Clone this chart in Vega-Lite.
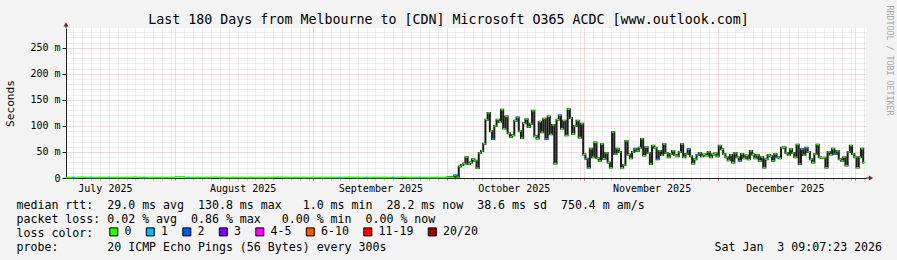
{
  "$schema": "https://vega.github.io/schema/vega-lite/v6.json",
  "width": 800,
  "height": 150,
  "autosize": {"type": "none"},
  "padding": {"left": 66, "top": 28, "right": 31, "bottom": 82},
  "background": "#f3f3f3",
  "config": {"view": {"fill": "#ffffff", "stroke": null}, "font": "DejaVu Sans Mono"},
  "datasets": {
    "flat": [
      {"t": "2025-07-07T09:07", "m": 1.2, "c": "0"},
      {"t": "2025-07-09T00:00", "m": 1.1, "c": "1"},
      {"t": "2025-07-11T00:00", "m": 1.3, "c": "0"},
      {"t": "2025-07-13T00:00", "m": 1.2, "c": "1"},
      {"t": "2025-07-15T00:00", "m": 1.1, "c": "0"},
      {"t": "2025-07-17T00:00", "m": 1.2, "c": "1"},
      {"t": "2025-07-19T00:00", "m": 1.0, "c": "0"},
      {"t": "2025-07-21T00:00", "m": 1.2, "c": "0"},
      {"t": "2025-07-23T00:00", "m": 1.3, "c": "0"},
      {"t": "2025-07-25T00:00", "m": 1.1, "c": "1"},
      {"t": "2025-07-27T00:00", "m": 1.2, "c": "0"},
      {"t": "2025-07-29T00:00", "m": 1.1, "c": "0"},
      {"t": "2025-07-31T00:00", "m": 1.2, "c": "0"},
      {"t": "2025-08-02T00:00", "m": 2.5, "c": "0"},
      {"t": "2025-08-04T00:00", "m": 1.2, "c": "1"},
      {"t": "2025-08-06T00:00", "m": 1.1, "c": "0"},
      {"t": "2025-08-08T00:00", "m": 1.2, "c": "0"},
      {"t": "2025-08-10T00:00", "m": 1.3, "c": "0"},
      {"t": "2025-08-12T00:00", "m": 1.1, "c": "0"},
      {"t": "2025-08-14T00:00", "m": 1.2, "c": "0"},
      {"t": "2025-08-16T00:00", "m": 1.0, "c": "0"},
      {"t": "2025-08-18T00:00", "m": 1.2, "c": "0"},
      {"t": "2025-08-20T00:00", "m": 1.1, "c": "0"},
      {"t": "2025-08-22T00:00", "m": 1.2, "c": "0"},
      {"t": "2025-08-24T00:00", "m": 1.3, "c": "0"},
      {"t": "2025-08-26T00:00", "m": 1.1, "c": "0"},
      {"t": "2025-08-28T00:00", "m": 1.2, "c": "0"},
      {"t": "2025-08-30T00:00", "m": 1.1, "c": "0"},
      {"t": "2025-09-01T00:00", "m": 1.2, "c": "0"},
      {"t": "2025-09-03T00:00", "m": 1.1, "c": "0"},
      {"t": "2025-09-05T00:00", "m": 1.2, "c": "0"},
      {"t": "2025-09-07T00:00", "m": 1.1, "c": "1"},
      {"t": "2025-09-09T00:00", "m": 1.3, "c": "0"},
      {"t": "2025-09-11T00:00", "m": 1.2, "c": "0"},
      {"t": "2025-09-13T00:00", "m": 1.1, "c": "1"},
      {"t": "2025-09-15T00:00", "m": 1.2, "c": "0"},
      {"t": "2025-09-17T00:00", "m": 1.1, "c": "0"},
      {"t": "2025-09-19T00:00", "m": 1.2, "c": "1"},
      {"t": "2025-09-21T00:00", "m": 1.3, "c": "0"},
      {"t": "2025-09-23T00:00", "m": 1.1, "c": "0"},
      {"t": "2025-09-25T00:00", "m": 1.2, "c": "1"},
      {"t": "2025-09-27T00:00", "m": 1.1, "c": "0"},
      {"t": "2025-09-29T00:00", "m": 1.2, "c": "0"},
      {"t": "2025-10-01T00:00", "m": 1.2, "c": "0"}
    ],
    "active": [
      {"t": "2025-10-01T00:00", "m": 1.2, "c": "0"},
      {"t": "2025-10-01T12:00", "m": 1.3, "c": "0"},
      {"t": "2025-10-02T00:00", "m": 1.2, "c": "0"},
      {"t": "2025-10-02T12:00", "m": 1.4, "c": "0"},
      {"t": "2025-10-03T00:00", "m": 5, "c": "1"},
      {"t": "2025-10-03T12:00", "m": 1.6, "c": "0"},
      {"t": "2025-10-04T00:00", "m": 22, "c": "0"},
      {"t": "2025-10-04T12:00", "m": 25, "c": "0"},
      {"t": "2025-10-05T00:00", "m": 28, "c": "0"},
      {"t": "2025-10-05T12:00", "m": 40, "c": "0"},
      {"t": "2025-10-06T00:00", "m": 27, "c": "0"},
      {"t": "2025-10-06T12:00", "m": 30, "c": "0"},
      {"t": "2025-10-07T00:00", "m": 36, "c": "0"},
      {"t": "2025-10-07T12:00", "m": 33, "c": "0"},
      {"t": "2025-10-08T00:00", "m": 19, "c": "0"},
      {"t": "2025-10-08T12:00", "m": 48, "c": "0"},
      {"t": "2025-10-09T00:00", "m": 52, "c": "0"},
      {"t": "2025-10-09T12:00", "m": 66, "c": "0"},
      {"t": "2025-10-10T00:00", "m": 112, "c": "0"},
      {"t": "2025-10-10T12:00", "m": 125, "c": "0"},
      {"t": "2025-10-11T00:00", "m": 90, "c": "0"},
      {"t": "2025-10-11T12:00", "m": 75, "c": "1"},
      {"t": "2025-10-12T00:00", "m": 100, "c": "0"},
      {"t": "2025-10-12T12:00", "m": 112, "c": "0"},
      {"t": "2025-10-13T00:00", "m": 108, "c": "0"},
      {"t": "2025-10-13T12:00", "m": 131, "c": "0"},
      {"t": "2025-10-14T00:00", "m": 95, "c": "0"},
      {"t": "2025-10-14T12:00", "m": 118, "c": "0"},
      {"t": "2025-10-15T00:00", "m": 86, "c": "0"},
      {"t": "2025-10-15T12:00", "m": 79, "c": "0"},
      {"t": "2025-10-16T00:00", "m": 82, "c": "0"},
      {"t": "2025-10-16T12:00", "m": 110, "c": "0"},
      {"t": "2025-10-17T00:00", "m": 116, "c": "1"},
      {"t": "2025-10-17T12:00", "m": 90, "c": "0"},
      {"t": "2025-10-18T00:00", "m": 77, "c": "0"},
      {"t": "2025-10-18T12:00", "m": 105, "c": "0"},
      {"t": "2025-10-19T00:00", "m": 113, "c": "0"},
      {"t": "2025-10-19T12:00", "m": 98, "c": "0"},
      {"t": "2025-10-20T00:00", "m": 104, "c": "0"},
      {"t": "2025-10-20T12:00", "m": 129, "c": "0"},
      {"t": "2025-10-21T00:00", "m": 80, "c": "0"},
      {"t": "2025-10-21T12:00", "m": 76, "c": "0"},
      {"t": "2025-10-22T00:00", "m": 108, "c": "0"},
      {"t": "2025-10-22T12:00", "m": 88, "c": "0"},
      {"t": "2025-10-23T00:00", "m": 114, "c": "0"},
      {"t": "2025-10-23T12:00", "m": 75, "c": "1"},
      {"t": "2025-10-24T00:00", "m": 118, "c": "0"},
      {"t": "2025-10-24T12:00", "m": 84, "c": "0"},
      {"t": "2025-10-25T00:00", "m": 102, "c": "0"},
      {"t": "2025-10-25T12:00", "m": 28, "c": "0"},
      {"t": "2025-10-26T00:00", "m": 112, "c": "0"},
      {"t": "2025-10-26T12:00", "m": 120, "c": "1"},
      {"t": "2025-10-27T00:00", "m": 95, "c": "0"},
      {"t": "2025-10-27T12:00", "m": 110, "c": "0"},
      {"t": "2025-10-28T00:00", "m": 82, "c": "0"},
      {"t": "2025-10-28T12:00", "m": 132, "c": "0"},
      {"t": "2025-10-29T00:00", "m": 115, "c": "0"},
      {"t": "2025-10-29T12:00", "m": 85, "c": "0"},
      {"t": "2025-10-30T00:00", "m": 100, "c": "0"},
      {"t": "2025-10-30T12:00", "m": 110, "c": "0"},
      {"t": "2025-10-31T00:00", "m": 78, "c": "0"},
      {"t": "2025-10-31T12:00", "m": 104, "c": "0"},
      {"t": "2025-11-01T00:00", "m": 45, "c": "0"},
      {"t": "2025-11-01T12:00", "m": 37, "c": "1"},
      {"t": "2025-11-02T00:00", "m": 20, "c": "1"},
      {"t": "2025-11-02T12:00", "m": 56, "c": "0"},
      {"t": "2025-11-03T00:00", "m": 40, "c": "0"},
      {"t": "2025-11-03T12:00", "m": 68, "c": "0"},
      {"t": "2025-11-04T00:00", "m": 38, "c": "0"},
      {"t": "2025-11-04T12:00", "m": 33, "c": "0"},
      {"t": "2025-11-05T00:00", "m": 65, "c": "0"},
      {"t": "2025-11-05T12:00", "m": 37, "c": "0"},
      {"t": "2025-11-06T00:00", "m": 48, "c": "0"},
      {"t": "2025-11-06T12:00", "m": 30, "c": "0"},
      {"t": "2025-11-07T00:00", "m": 20, "c": "0"},
      {"t": "2025-11-07T12:00", "m": 88, "c": "0"},
      {"t": "2025-11-08T00:00", "m": 46, "c": "0"},
      {"t": "2025-11-08T12:00", "m": 56, "c": "0"},
      {"t": "2025-11-09T00:00", "m": 50, "c": "0"},
      {"t": "2025-11-09T12:00", "m": 20, "c": "0"},
      {"t": "2025-11-10T00:00", "m": 25, "c": "0"},
      {"t": "2025-11-10T12:00", "m": 71, "c": "0"},
      {"t": "2025-11-11T00:00", "m": 45, "c": "0"},
      {"t": "2025-11-11T12:00", "m": 38, "c": "0"},
      {"t": "2025-11-12T00:00", "m": 50, "c": "0"},
      {"t": "2025-11-12T12:00", "m": 56, "c": "1"},
      {"t": "2025-11-13T00:00", "m": 52, "c": "0"},
      {"t": "2025-11-13T12:00", "m": 58, "c": "0"},
      {"t": "2025-11-14T00:00", "m": 75, "c": "0"},
      {"t": "2025-11-14T12:00", "m": 43, "c": "0"},
      {"t": "2025-11-15T00:00", "m": 59, "c": "0"},
      {"t": "2025-11-15T12:00", "m": 48, "c": "0"},
      {"t": "2025-11-16T00:00", "m": 27, "c": "0"},
      {"t": "2025-11-16T12:00", "m": 62, "c": "0"},
      {"t": "2025-11-17T00:00", "m": 58, "c": "0"},
      {"t": "2025-11-17T12:00", "m": 36, "c": "1"},
      {"t": "2025-11-18T00:00", "m": 52, "c": "0"},
      {"t": "2025-11-18T12:00", "m": 44, "c": "0"},
      {"t": "2025-11-19T00:00", "m": 65, "c": "0"},
      {"t": "2025-11-19T12:00", "m": 48, "c": "0"},
      {"t": "2025-11-20T00:00", "m": 40, "c": "0"},
      {"t": "2025-11-20T12:00", "m": 46, "c": "0"},
      {"t": "2025-11-21T00:00", "m": 52, "c": "0"},
      {"t": "2025-11-21T12:00", "m": 44, "c": "0"},
      {"t": "2025-11-22T00:00", "m": 42, "c": "0"},
      {"t": "2025-11-22T12:00", "m": 50, "c": "0"},
      {"t": "2025-11-23T00:00", "m": 65, "c": "0"},
      {"t": "2025-11-23T12:00", "m": 40, "c": "0"},
      {"t": "2025-11-24T00:00", "m": 46, "c": "0"},
      {"t": "2025-11-24T12:00", "m": 55, "c": "1"},
      {"t": "2025-11-25T00:00", "m": 42, "c": "0"},
      {"t": "2025-11-25T12:00", "m": 28, "c": "0"},
      {"t": "2025-11-26T00:00", "m": 36, "c": "0"},
      {"t": "2025-11-26T12:00", "m": 44, "c": "1"},
      {"t": "2025-11-27T00:00", "m": 48, "c": "0"},
      {"t": "2025-11-27T12:00", "m": 42, "c": "0"},
      {"t": "2025-11-28T00:00", "m": 45, "c": "0"},
      {"t": "2025-11-28T12:00", "m": 43, "c": "0"},
      {"t": "2025-11-29T00:00", "m": 50, "c": "0"},
      {"t": "2025-11-29T12:00", "m": 40, "c": "0"},
      {"t": "2025-11-30T00:00", "m": 45, "c": "0"},
      {"t": "2025-11-30T12:00", "m": 47, "c": "0"},
      {"t": "2025-12-01T00:00", "m": 42, "c": "0"},
      {"t": "2025-12-01T12:00", "m": 62, "c": "0"},
      {"t": "2025-12-02T00:00", "m": 55, "c": "0"},
      {"t": "2025-12-02T12:00", "m": 46, "c": "0"},
      {"t": "2025-12-03T00:00", "m": 40, "c": "0"},
      {"t": "2025-12-03T12:00", "m": 34, "c": "0"},
      {"t": "2025-12-04T00:00", "m": 44, "c": "0"},
      {"t": "2025-12-04T12:00", "m": 30, "c": "0"},
      {"t": "2025-12-05T00:00", "m": 48, "c": "0"},
      {"t": "2025-12-05T12:00", "m": 40, "c": "0"},
      {"t": "2025-12-06T00:00", "m": 33, "c": "1"},
      {"t": "2025-12-06T12:00", "m": 46, "c": "0"},
      {"t": "2025-12-07T00:00", "m": 38, "c": "0"},
      {"t": "2025-12-07T12:00", "m": 43, "c": "0"},
      {"t": "2025-12-08T00:00", "m": 36, "c": "0"},
      {"t": "2025-12-08T12:00", "m": 52, "c": "0"},
      {"t": "2025-12-09T00:00", "m": 45, "c": "0"},
      {"t": "2025-12-09T12:00", "m": 38, "c": "0"},
      {"t": "2025-12-10T00:00", "m": 44, "c": "0"},
      {"t": "2025-12-10T12:00", "m": 33, "c": "0"},
      {"t": "2025-12-11T00:00", "m": 40, "c": "0"},
      {"t": "2025-12-11T12:00", "m": 20, "c": "0"},
      {"t": "2025-12-12T00:00", "m": 36, "c": "0"},
      {"t": "2025-12-12T12:00", "m": 44, "c": "0"},
      {"t": "2025-12-13T00:00", "m": 42, "c": "0"},
      {"t": "2025-12-13T12:00", "m": 33, "c": "0"},
      {"t": "2025-12-14T00:00", "m": 46, "c": "0"},
      {"t": "2025-12-14T12:00", "m": 40, "c": "1"},
      {"t": "2025-12-15T00:00", "m": 38, "c": "0"},
      {"t": "2025-12-15T12:00", "m": 58, "c": "0"},
      {"t": "2025-12-16T00:00", "m": 59, "c": "0"},
      {"t": "2025-12-16T12:00", "m": 48, "c": "0"},
      {"t": "2025-12-17T00:00", "m": 44, "c": "0"},
      {"t": "2025-12-17T12:00", "m": 55, "c": "0"},
      {"t": "2025-12-18T00:00", "m": 48, "c": "0"},
      {"t": "2025-12-18T12:00", "m": 40, "c": "0"},
      {"t": "2025-12-19T00:00", "m": 64, "c": "0"},
      {"t": "2025-12-19T12:00", "m": 27, "c": "0"},
      {"t": "2025-12-20T00:00", "m": 55, "c": "1"},
      {"t": "2025-12-20T12:00", "m": 44, "c": "0"},
      {"t": "2025-12-21T00:00", "m": 58, "c": "1"},
      {"t": "2025-12-21T12:00", "m": 50, "c": "0"},
      {"t": "2025-12-22T00:00", "m": 36, "c": "0"},
      {"t": "2025-12-22T12:00", "m": 30, "c": "0"},
      {"t": "2025-12-23T00:00", "m": 46, "c": "0"},
      {"t": "2025-12-23T12:00", "m": 64, "c": "0"},
      {"t": "2025-12-24T00:00", "m": 40, "c": "0"},
      {"t": "2025-12-24T12:00", "m": 39, "c": "0"},
      {"t": "2025-12-25T00:00", "m": 39, "c": "0"},
      {"t": "2025-12-25T12:00", "m": 20, "c": "0"},
      {"t": "2025-12-26T00:00", "m": 50, "c": "0"},
      {"t": "2025-12-26T12:00", "m": 45, "c": "0"},
      {"t": "2025-12-27T00:00", "m": 56, "c": "0"},
      {"t": "2025-12-27T12:00", "m": 46, "c": "1"},
      {"t": "2025-12-28T00:00", "m": 52, "c": "0"},
      {"t": "2025-12-28T12:00", "m": 36, "c": "0"},
      {"t": "2025-12-29T00:00", "m": 33, "c": "0"},
      {"t": "2025-12-29T12:00", "m": 40, "c": "0"},
      {"t": "2025-12-30T00:00", "m": 24, "c": "0"},
      {"t": "2025-12-30T12:00", "m": 50, "c": "0"},
      {"t": "2025-12-31T00:00", "m": 62, "c": "0"},
      {"t": "2025-12-31T12:00", "m": 46, "c": "0"},
      {"t": "2026-01-01T00:00", "m": 40, "c": "0"},
      {"t": "2026-01-01T12:00", "m": 20, "c": "0"},
      {"t": "2026-01-02T00:00", "m": 40, "c": "0"},
      {"t": "2026-01-02T12:00", "m": 56, "c": "0"},
      {"t": "2026-01-03T00:00", "m": 30, "c": "0"}
    ]
  },
  "resolve": {"axis": {"x": "independent", "y": "independent"}},
  "layer": [
    {
      "data": {"name": "flat"},
      "mark": {"type": "line", "interpolate": "step", "color": "#26ff00", "strokeWidth": 1.5},
      "encoding": {
        "x": {
          "field": "t", "type": "temporal",
          "scale": {"domain": [{"year": 2025, "month": 7, "date": 7, "hours": 9, "minutes": 7}, {"year": 2026, "month": 1, "date": 3, "hours": 9, "minutes": 7}], "nice": false},
          "axis": {
            "orient": "bottom",
            "tickCount": {"interval": "day", "step": 2},
            "grid": true,
            "gridColor": {"condition": {"test": "date(datum.value) === 1", "value": "#eeb0b0"}, "value": "#dcdcdc"},
            "gridDash": [1, 1],
            "gridWidth": 1,
            "ticks": true,
            "tickSize": 2,
            "tickColor": {"condition": {"test": "date(datum.value) === 1", "value": "#d06060"}, "value": "#c0c0c0"},
            "domainColor": "#202020",
            "domainWidth": 1,
            "labelExpr": "date(datum.value) === 15 ? timeFormat(datum.value, '%B %Y') : ''",
            "labelOffset": 5,
            "labelOverlap": false,
            "labelFlush": false,
            "labelBound": false,
            "labelFont": "DejaVu Sans Mono",
            "labelFontSize": 10,
            "labelColor": "#000000",
            "labelPadding": 3,
            "title": [
              "median rtt:\u00a0\u00a029.0 ms avg\u00a0\u00a0130.8 ms max\u00a0\u00a0\u00a01.0 ms min\u00a0\u00a028.2 ms now\u00a0\u00a038.6 ms sd\u00a0\u00a0750.4 m am/s",
              "packet loss: 0.02 % avg\u00a0\u00a00.86 % max\u00a0\u00a0\u00a00.00 % min\u00a0\u00a00.00 % now",
              "loss color:",
              "probe:\u00a0\u00a0\u00a0\u00a0\u00a0\u00a0\u00a020 ICMP Echo Pings (56 Bytes) every 300s\u00a0\u00a0\u00a0\u00a0\u00a0\u00a0\u00a0\u00a0\u00a0\u00a0\u00a0\u00a0\u00a0\u00a0\u00a0\u00a0\u00a0\u00a0\u00a0\u00a0\u00a0\u00a0\u00a0\u00a0\u00a0\u00a0\u00a0\u00a0\u00a0\u00a0\u00a0\u00a0\u00a0\u00a0\u00a0\u00a0\u00a0\u00a0\u00a0\u00a0\u00a0\u00a0\u00a0\u00a0\u00a0\u00a0\u00a0Sat Jan\u00a0\u00a03 09:07:23 2026"
            ],
            "titleFont": "DejaVu Sans Mono",
            "titleFontSize": 11.6,
            "titleFontWeight": "normal",
            "titleColor": "#000000",
            "titleX": -50,
            "titleY": 30,
            "titleAlign": "left",
            "titleAnchor": "start",
            "titleBaseline": "alphabetic",
            "titleLineHeight": 14
          }
        },
        "y": {
          "field": "m", "type": "quantitative",
          "scale": {"domain": [0, 288], "nice": false, "zero": true},
          "axis": {
            "orient": "left",
            "values": [0, 10, 20, 30, 40, 50, 60, 70, 80, 90, 100, 110, 120, 130, 140, 150, 160, 170, 180, 190, 200, 210, 220, 230, 240, 250, 260, 270, 280],
            "grid": true,
            "gridColor": {"condition": {"test": "datum.value % 50 === 0", "value": "#eeb0b0"}, "value": "#dcdcdc"},
            "gridDash": [1, 1],
            "gridWidth": 1,
            "tickSize": 4,
            "tickColor": "#202020",
            "tickOpacity": {"condition": {"test": "datum.value % 50 === 0", "value": 1}, "value": 0},
            "domainColor": "#202020",
            "labelExpr": "datum.value % 50 === 0 ? (datum.value === 0 ? '0' : datum.value + ' m') : ''",
            "labelFont": "DejaVu Sans Mono",
            "labelFontSize": 10,
            "labelPadding": 2,
            "labelColor": "#000000",
            "labelOverlap": false,
            "labelBound": false,
            "labelFlush": false,
            "title": "Seconds",
            "titleFont": "DejaVu Sans Mono",
            "titleFontSize": 11.2,
            "titleFontWeight": "normal",
            "titleColor": "#000000",
            "titleX": -56,
            "titleY": 75,
            "titleAngle": -90,
            "titleAlign": "center",
            "titleBaseline": "middle"
          }
        }
      }
    },
    {
      "data": {"name": "active"},
      "mark": {"type": "line", "interpolate": "step", "color": "#1a1a1a", "strokeWidth": 2},
      "encoding": {
        "x": {"field": "t", "type": "temporal", "scale": {"domain": [{"year": 2025, "month": 7, "date": 7, "hours": 9, "minutes": 7}, {"year": 2026, "month": 1, "date": 3, "hours": 9, "minutes": 7}], "nice": false}, "axis": null},
        "y": {"field": "m", "type": "quantitative", "scale": {"domain": [0, 288], "nice": false, "zero": true}, "axis": null}
      }
    },
    {
      "data": {"name": "active"},
      "mark": {"type": "tick", "orient": "horizontal", "size": 2.6, "thickness": 1.4, "opacity": 1},
      "encoding": {
        "x": {"field": "t", "type": "temporal", "scale": {"domain": [{"year": 2025, "month": 7, "date": 7, "hours": 9, "minutes": 7}, {"year": 2026, "month": 1, "date": 3, "hours": 9, "minutes": 7}], "nice": false}, "axis": null},
        "y": {"field": "m", "type": "quantitative", "scale": {"domain": [0, 288], "nice": false, "zero": true}, "axis": null},
        "color": {
          "field": "c", "type": "nominal",
          "scale": {"domain": ["0", "1", "2", "3", "4-5", "6-10", "11-19", "20/20"], "range": ["#26ff00", "#00b8ff", "#0059ff", "#7e00ff", "#ff00ff", "#ff5500", "#ff0000", "#a10000"]},
          "legend": {
            "orient": "none",
            "legendX": 42,
            "legendY": 198,
            "direction": "horizontal",
            "columns": 8,
            "title": null,
            "padding": 0,
            "symbolType": "square",
            "symbolSize": 64,
            "symbolStrokeColor": "#000000",
            "symbolStrokeWidth": 1,
            "symbolOpacity": 1,
            "labelFont": "DejaVu Sans Mono",
            "labelFontSize": 11.6,
            "labelColor": "#000000",
            "labelOffset": 5,
            "columnPadding": 11.5
          }
        }
      }
    },
    {
      "data": {"name": "flat"},
      "mark": {"type": "tick", "orient": "horizontal", "size": 2.6, "thickness": 1.4, "opacity": 1},
      "encoding": {
        "x": {"field": "t", "type": "temporal", "scale": {"domain": [{"year": 2025, "month": 7, "date": 7, "hours": 9, "minutes": 7}, {"year": 2026, "month": 1, "date": 3, "hours": 9, "minutes": 7}], "nice": false}, "axis": null},
        "y": {"field": "m", "type": "quantitative", "scale": {"domain": [0, 288], "nice": false, "zero": true}, "axis": null},
        "color": {"field": "c", "type": "nominal", "legend": null}
      }
    },
    {
      "data": {"values": [{}]},
      "mark": {"type": "rule", "color": "#202020", "strokeWidth": 1},
      "encoding": {
        "x": {"datum": {"year": 2025, "month": 7, "date": 7, "hours": 9, "minutes": 7}, "type": "temporal", "axis": null},
        "y": {"datum": 288, "type": "quantitative", "axis": null},
        "y2": {"datum": 293}
      }
    },
    {
      "data": {"values": [{}]},
      "mark": {"type": "rule", "color": "#202020", "strokeWidth": 1},
      "encoding": {
        "x": {"datum": {"year": 2026, "month": 1, "date": 3, "hours": 9, "minutes": 7}, "type": "temporal", "axis": null},
        "x2": {"datum": {"year": 2026, "month": 1, "date": 4, "hours": 6}},
        "y": {"datum": 0, "type": "quantitative", "axis": null}
      }
    },
    {
      "data": {"values": [{}]},
      "mark": {"type": "point", "shape": "triangle-up", "filled": true, "size": 25, "color": "#8b1a1a", "opacity": 1},
      "encoding": {
        "x": {"datum": {"year": 2025, "month": 7, "date": 7, "hours": 9, "minutes": 7}, "type": "temporal", "axis": null},
        "y": {
          "datum": 295, "type": "quantitative",
          "axis": {
            "orient": "right",
            "labels": false,
            "ticks": false,
            "domain": false,
            "grid": false,
            "title": "RRDTOOL / TOBI OETIKER",
            "titleFont": "DejaVu Sans Mono",
            "titleFontSize": 8.3,
            "titleFontWeight": "normal",
            "titleColor": "#a8a8a8",
            "titleAngle": 90,
            "titleX": 22,
            "titleY": 32,
            "titleAlign": "center",
            "titleBaseline": "middle"
          }
        }
      }
    },
    {
      "data": {"values": [{}]},
      "mark": {"type": "point", "shape": "triangle-right", "filled": true, "size": 25, "color": "#8b1a1a", "opacity": 1},
      "encoding": {
        "x": {
          "datum": {"year": 2026, "month": 1, "date": 4, "hours": 12}, "type": "temporal",
          "axis": {
            "orient": "top",
            "labels": false,
            "ticks": false,
            "domain": false,
            "grid": false,
            "title": "Last 180 Days from Melbourne to [CDN] Microsoft O365 ACDC [www.outlook.com]",
            "titleFont": "DejaVu Sans Mono",
            "titleFontSize": 13.3,
            "titleFontWeight": "normal",
            "titleColor": "#000000",
            "titleX": 382,
            "titleY": -8.5,
            "titleAlign": "center",
            "titleBaseline": "middle"
          }
        },
        "y": {"datum": 0, "type": "quantitative", "axis": null}
      }
    }
  ]
}
